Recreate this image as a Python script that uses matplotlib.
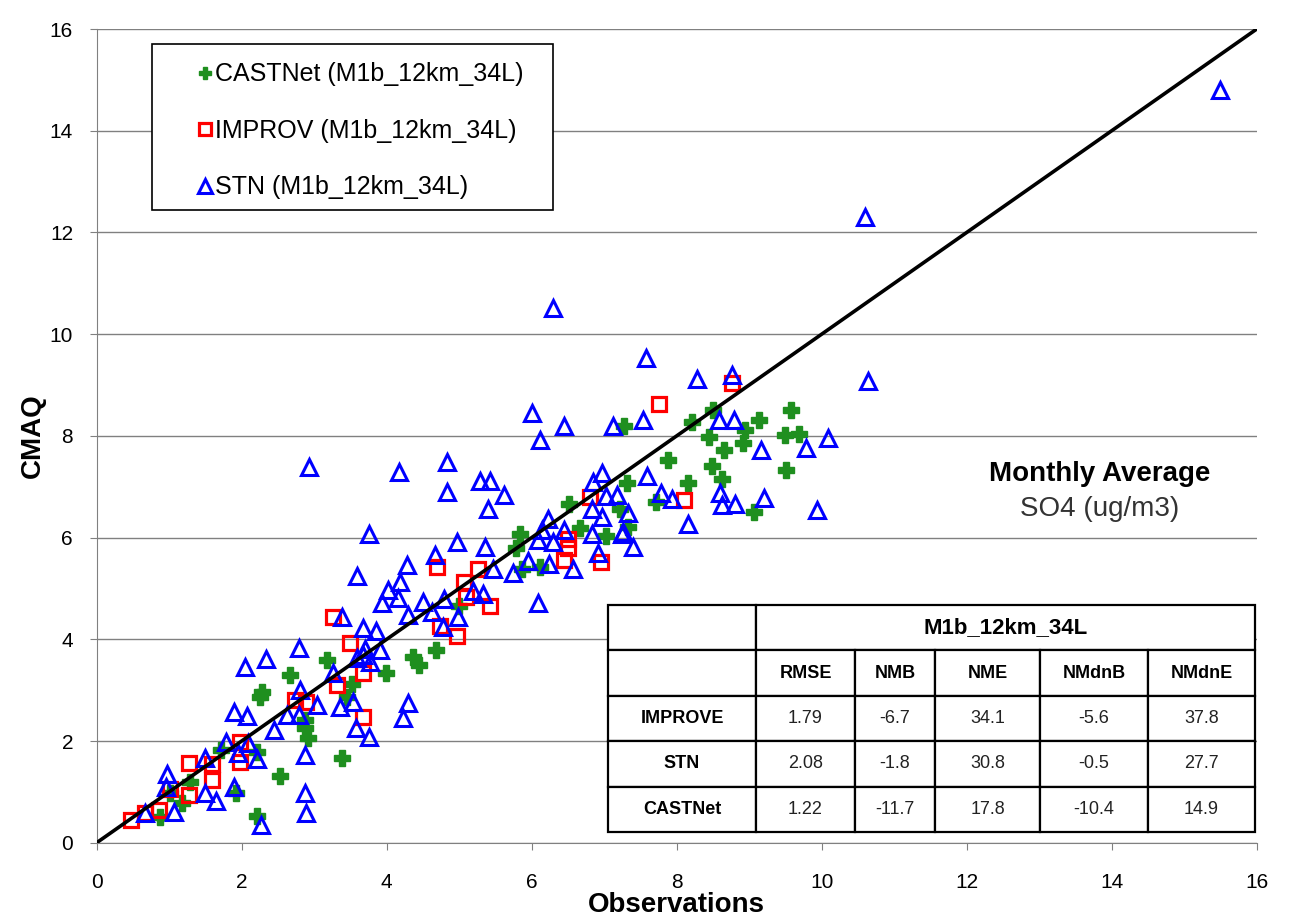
import matplotlib
matplotlib.use("Agg")
import matplotlib.pyplot as plt
from matplotlib.lines import Line2D
from matplotlib.patches import Rectangle

plt.rcParams["font.family"] = ["Liberation Sans", "DejaVu Sans"]

# --- data ---
castnet_obs = [0.87, 1.17, 1.29, 1.01, 1.92, 2.21, 2.53, 1.72, 2.21, 2.87, 2.92, 2.87, 2.25, 2.28,
               2.66, 3.18, 3.45, 3.52, 3.39, 3.99, 4.36, 4.45, 4.68, 5.0, 5.79, 5.84, 5.86, 6.11,
               6.52, 6.67, 7.02, 7.22, 7.33, 7.31, 7.27, 7.71, 7.88, 8.15, 8.21, 8.5, 8.44, 8.48,
               8.62, 8.65, 8.91, 8.94, 9.13, 9.07, 9.49, 9.69, 9.51, 9.57]
castnet_mod = [0.51, 0.79, 1.2, 0.97, 0.97, 0.53, 1.31, 1.82, 1.79, 2.25, 2.05, 2.41, 2.87, 2.97,
               3.3, 3.59, 2.87, 3.13, 1.66, 3.33, 3.66, 3.49, 3.79, 4.65, 5.79, 6.08, 5.39, 5.43,
               6.66, 6.18, 6.03, 6.56, 6.21, 7.08, 8.19, 6.69, 7.52, 7.08, 8.28, 8.51, 7.98, 7.41,
               7.16, 7.72, 7.85, 8.11, 8.32, 6.51, 8.02, 8.04, 7.33, 8.51]

improve_obs = [0.48, 0.67, 0.86, 1.28, 1.01, 1.28, 1.59, 1.59, 1.97, 1.97, 2.74, 2.89, 3.31, 3.68,
               3.67, 3.49, 3.26, 4.69, 4.74, 4.97, 5.06, 5.09, 5.26, 5.42, 6.44, 6.5, 6.5, 6.8,
               6.95, 7.76, 8.1, 8.76]
improve_mod = [0.45, 0.58, 0.64, 0.94, 1.05, 1.57, 1.55, 1.23, 1.59, 1.99, 2.81, 2.77, 3.1, 3.33,
               2.48, 3.93, 4.43, 5.43, 4.26, 4.06, 5.13, 4.84, 5.39, 4.65, 5.56, 5.79, 5.98, 6.8,
               5.51, 8.63, 6.74, 9.04]

stn_obs = [0.67, 1.07, 0.97, 0.96, 1.49, 1.65, 1.49, 1.89, 1.89, 2.07, 1.78, 1.95, 2.09, 2.21,
           2.05, 2.34, 2.79, 2.44, 2.62, 2.79, 2.81, 3.04, 3.35, 2.87, 2.87, 2.89, 2.26, 3.53,
           3.58, 3.75, 3.68, 3.59, 3.77, 3.7, 3.91, 3.26, 3.39, 3.68, 3.85, 4.3, 4.23,
           2.93, 4.17, 4.83, 4.83, 3.75, 4.97, 4.67, 4.28, 3.59, 4.19, 4.02, 3.93, 4.16, 4.5,
           4.79, 4.3, 4.62, 4.99, 5.19, 5.33, 4.78, 5.29, 5.43, 5.62, 5.4, 5.36, 5.47, 5.74,
           5.95, 6.24, 6.57, 6.09, 6.0, 6.11, 6.44, 6.3, 7.12, 6.23, 6.14, 6.09, 6.3, 6.44,
           6.83, 6.97, 6.97, 6.85, 7.03, 7.18, 6.83, 7.24, 7.4, 6.92, 7.33, 7.54, 7.58, 8.28,
           8.76, 10.64, 8.59, 8.79, 9.16, 9.78, 10.09, 7.59, 7.78, 7.93, 8.6, 8.63, 8.8, 9.2,
           9.94, 8.15, 7.26, 15.5, 10.6]
stn_mod = [0.58, 0.61, 1.36, 1.09, 0.97, 0.83, 1.66, 1.09, 2.58, 2.49, 1.99, 1.76, 1.97, 1.64,
           3.46, 3.61, 3.82, 2.22, 2.51, 2.51, 3.0, 2.71, 2.67, 1.72, 0.97, 0.58, 0.35, 2.77,
           2.25, 2.08, 3.69, 3.63, 3.56, 3.8, 3.79, 3.33, 4.43, 4.22, 4.17, 2.74, 2.45,
           7.38, 7.28, 7.49, 6.9, 6.07, 5.92, 5.66, 5.46, 5.24, 5.13, 4.97, 4.72, 4.82, 4.74,
           4.8, 4.48, 4.54, 4.44, 4.94, 4.9, 4.25, 7.12, 7.12, 6.84, 6.57, 5.82, 5.38, 5.31,
           5.54, 5.49, 5.38, 4.72, 8.44, 7.92, 8.19, 10.51, 8.19, 6.36, 6.15, 5.95, 5.92, 6.15,
           6.57, 6.4, 7.26, 7.1, 6.82, 6.84, 6.08, 6.08, 5.82, 5.69, 6.48, 8.32, 9.54, 9.11,
           9.2, 9.08, 8.31, 8.32, 7.72, 7.77, 7.95, 7.22, 6.88, 6.76, 6.88, 6.65, 6.67, 6.77,
           6.55, 6.27, 6.11, 14.8, 12.3]

series_labels = ["CASTNet (M1b_12km_34L)", "IMPROV (M1b_12km_34L)", "STN (M1b_12km_34L)"]

table_title = "M1b_12km_34L"
stat_names = ["RMSE", "NMB", "NME", "NMdnB", "NMdnE"]
networks = ["IMPROVE", "STN", "CASTNet"]
stat_values = [["1.79", "-6.7", "34.1", "-5.6", "37.8"],
               ["2.08", "-1.8", "30.8", "-0.5", "27.7"],
               ["1.22", "-11.7", "17.8", "-10.4", "14.9"]]

# --- plotting ---
fig = plt.figure(figsize=(12.96, 9.21), dpi=100)
ax = fig.add_axes([0.0746, 0.0850, 0.8951, 0.8835])

green = "#1f8f1f"
ax.plot(castnet_obs, castnet_mod, "P", color=green, ms=11, mec=green, lw=0, zorder=3)
ax.plot(improve_obs, improve_mod, "s", mfc="none", mec="red", ms=9.5, mew=2.3, lw=0, zorder=4)
ax.plot(stn_obs, stn_mod, "^", mfc="none", mec="blue", ms=11.5, mew=2.2, lw=0, zorder=5)
ax.plot([0, 16], [0, 16], color="black", lw=2.6, zorder=6)

ax.set_xlim(0, 16)
ax.set_ylim(0, 16)
ax.set_xticks(range(0, 17, 2))
ax.set_yticks(range(0, 17, 2))
ax.yaxis.grid(True, color="#808080", lw=1)
ax.set_axisbelow(True)
for s in ["top", "right"]:
    ax.spines[s].set_visible(False)
for s in ["left", "bottom"]:
    ax.spines[s].set_color("#808080")
ax.tick_params(axis="both", colors="#808080", labelcolor="black", labelsize=15, length=5)
ax.tick_params(axis="x", pad=17)
ax.tick_params(axis="y", pad=12)
ax.set_xlabel("Observations", fontsize=20, fontweight="bold", labelpad=0)
ax.set_ylabel("CMAQ", fontsize=20, fontweight="bold", labelpad=3)

# legend: box drawn separately so its size can match the original
ax.add_patch(Rectangle((0.0477, 0.7776), 0.3457, 0.204, transform=ax.transAxes,
                       facecolor="white", edgecolor="black", lw=1.2, zorder=9))
handles = [
    Line2D([], [], marker="P", color=green, ls="", ms=9),
    Line2D([], [], marker="s", mfc="none", mec="red", mew=2.3, ls="", ms=9),
    Line2D([], [], marker="^", mfc="none", mec="blue", mew=2.2, ls="", ms=10),
]
leg = ax.legend(handles, series_labels, loc="upper left", bbox_to_anchor=(0.0882, 0.9590),
                fontsize=18, frameon=False, handlelength=0.5, handletextpad=0.15,
                labelspacing=1.3, borderpad=0, borderaxespad=0)
leg.set_zorder(10)

ax.text(13.84, 7.25, "Monthly Average", fontsize=20, fontweight="bold",
        ha="center", va="center", zorder=7)
ax.text(13.84, 6.56, "SO4 (ug/m3)", fontsize=20, color="#333333",
        ha="center", va="center", zorder=7)

# stats table
col_px = [148, 99, 80, 105, 108, 107]
tot = sum(col_px)
col_w = [c / tot for c in col_px]
cell_text = [[""] * 6, [""] + stat_names] + [[n] + v for n, v in zip(networks, stat_values)]
tb_x0, tb_y0, tb_w, tb_h = 0.4408, 0.0132, 0.5578, 0.279
ax.add_patch(Rectangle((tb_x0, tb_y0), tb_w, tb_h, transform=ax.transAxes,
                       facecolor="white", edgecolor="none", zorder=7.5))
tbl = ax.table(cellText=cell_text, colWidths=col_w, cellLoc="center",
               bbox=[tb_x0, tb_y0, tb_w, tb_h], zorder=8)
tbl.auto_set_font_size(False)
for (r, c), cell in tbl.get_celld().items():
    cell.set_linewidth(1.6)
    cell.set_edgecolor("black")
    cell.set_facecolor("white")
    txt = cell.get_text()
    txt.set_fontsize(13)
    if r == 1 or c == 0:
        txt.set_fontweight("bold")
    else:
        txt.set_color("#222222")
    if r == 0 and c > 0:
        if c == 1:
            cell.visible_edges = "BTL"
        elif c == 5:
            cell.visible_edges = "BTR"
        else:
            cell.visible_edges = "BT"
head_x = tb_x0 + tb_w * (col_w[0] + (1 - col_w[0]) / 2)
head_y = tb_y0 + tb_h * (1 - 0.5 / 5)
ax.text(head_x, head_y, table_title, transform=ax.transAxes, fontsize=16,
        fontweight="bold", ha="center", va="center", zorder=9)

fig.savefig("out.png", dpi=100)
